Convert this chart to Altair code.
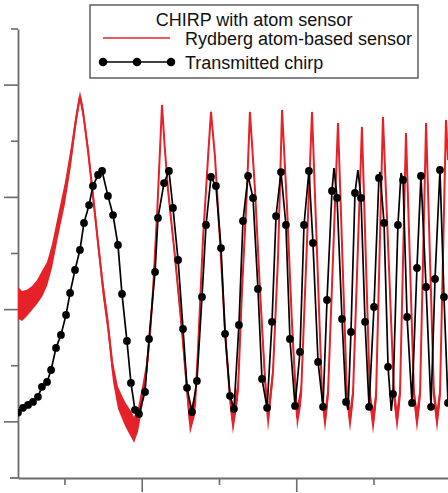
import altair as alt
import pandas as pd

RED = "#e62229"
AXIS_GREY = "#6b6b6b"
FONT = "Liberation Sans"

# Transmitted chirp: sampled points (time, normalized amplitude)
chirp_t = [1.96, 2.28, 2.61, 2.93, 3.25, 3.51, 3.84, 4.10, 4.42, 4.74,
           5.07, 5.33, 5.65, 5.97, 6.23, 6.56, 6.81, 7.14, 7.40, 7.78,
           8.11, 8.43, 8.69, 9.01, 9.27, 9.53, 9.79, 10.18, 10.44, 10.83,
           11.02, 11.41, 11.73, 11.99, 12.32, 12.64, 12.90, 13.22, 13.54, 13.87,
           14.13, 14.45, 14.77, 15.10, 15.36, 15.68, 15.94, 16.26, 16.52, 16.85,
           17.17, 17.49, 17.75, 18.08, 18.40, 18.66, 18.98, 19.30, 19.56, 19.89,
           20.21, 20.47, 20.79, 21.05, 21.38, 21.70, 21.96, 22.28, 22.61, 22.93,
           23.19, 23.51, 23.77, 24.16, 24.42, 24.68, 25.00, 25.32, 25.65, 25.91,
           26.23, 26.55, 26.88, 27.14, 27.46, 27.78, 28.04, 28.37, 28.69, 28.95,
           29.27, 29.53, 29.79]
chirp_v = [0.083, 0.125, 0.151, 0.178, 0.223, 0.312, 0.356, 0.463, 0.659, 0.775,
           0.953, 1.149, 1.354, 1.532, 1.772, 1.932, 2.102, 2.200, 2.235, 2.013,
           1.843, 1.576, 1.140, 0.721, 0.347, 0.107, 0.071, 0.267, 0.739, 1.336,
           1.817, 2.128, 2.235, 1.906, 1.443, 0.828, 0.303, 0.089, 0.365, 1.113,
           1.754, 2.182, 2.102, 1.549, 0.784, 0.232, 0.116, 0.864, 1.790, 2.191,
           1.995, 1.184, 0.383, 0.125, 0.891, 1.834, 2.226, 1.754, 0.739, 0.142,
           0.623, 1.754, 2.235, 1.594, 0.534, 0.134, 1.086, 2.057, 1.995, 0.917,
           0.178, 0.801, 2.039, 1.995, 0.891, 0.134, 1.024, 2.173, 1.772, 0.490,
           0.249, 1.754, 2.155, 0.935, 0.169, 1.371, 2.191, 1.202, 0.134, 1.273,
           2.244, 1.113, 0.169]

# Turning points of the transmitted waveform that fall between samples
chirp_turn_t = [22.41, 23.32, 23.96, 25.39, 26.12, 26.75]
chirp_turn_v = [2.262, 0.107, 2.244, 2.226, 0.098, 2.217]

# Rydberg atom-based sensor trace: mean level and noise half-width
rydberg_t = [1.96, 2.22, 2.54, 2.87, 3.19, 3.51, 3.84, 4.16, 4.55, 5.00,
             5.39, 5.71, 5.97, 6.17, 6.49, 6.81, 7.14, 7.46, 7.78, 8.11,
             8.43, 8.89, 9.27, 9.47, 9.73, 9.99, 10.24, 10.50, 10.70, 10.96,
             11.15, 11.28, 11.47, 11.67, 12.12, 12.57, 12.90, 13.09, 13.42, 13.61,
             13.93, 14.26, 14.45, 14.71, 15.03, 15.36, 15.68, 15.87, 16.20, 16.46,
             16.78, 16.97, 17.30, 17.62, 17.95, 18.14, 18.46, 18.79, 19.05, 19.37,
             19.69, 20.02, 20.28, 20.99, 21.64, 21.83, 22.02, 22.67, 23.25, 23.45,
             23.64, 24.22, 24.74, 24.94, 25.13, 25.58, 26.30, 26.49, 26.68, 27.07,
             27.59, 27.78, 27.98, 28.37, 28.88, 29.08, 29.27, 29.66, 29.79]
rydberg_v = [1.060, 1.033, 1.060, 1.104, 1.158, 1.229, 1.318, 1.478, 1.745, 2.039,
             2.369, 2.689, 2.903, 2.761, 2.422, 2.021, 1.594, 1.193, 0.864, 0.445,
             0.214, 0.071, -0.018, -0.071, 0.018, 0.214, 0.419, 0.775, 1.175, 1.843,
             2.422, 2.823, 2.422, 2.066, 1.469, 0.819, 0.285, 0.000, 0.151, 0.641,
             1.621, 2.360, 2.761, 2.360, 1.621, 0.819, 0.214, 0.000, 0.285, 1.175,
             2.066, 2.761, 2.066, 1.175, 0.374, 0.018, 0.436, 1.469, 2.778, 1.915,
             0.882, 0.036, 0.240, 2.761, 0.240, 0.018, 0.240, 2.663, 0.240, 0.018,
             0.240, 2.627, 0.214, 0.000, 0.214, 2.716, 0.240, 0.018, 0.240, 2.574,
             0.240, 0.018, 0.240, 2.663, 0.240, 0.018, 0.240, 2.689, 2.333]
rydberg_noise = [0.142, 0.134, 0.116, 0.107, 0.107, 0.116, 0.107, 0.107, 0.098, 0.098,
                 0.089, 0.062, 0.045, 0.053, 0.062, 0.071, 0.071, 0.080, 0.080, 0.089,
                 0.098, 0.107, 0.116, 0.116, 0.107, 0.098, 0.089, 0.080, 0.071, 0.062,
                 0.045, 0.027, 0.036, 0.045, 0.053, 0.071, 0.089, 0.107, 0.089, 0.071,
                 0.053, 0.036, 0.027, 0.036, 0.053, 0.071, 0.089, 0.107, 0.089, 0.071,
                 0.045, 0.027, 0.045, 0.062, 0.089, 0.107, 0.080, 0.053, 0.027, 0.045,
                 0.071, 0.107, 0.089, 0.027, 0.089, 0.107, 0.089, 0.027, 0.089, 0.107,
                 0.089, 0.027, 0.089, 0.107, 0.089, 0.027, 0.089, 0.107, 0.089, 0.027,
                 0.089, 0.107, 0.089, 0.027, 0.089, 0.107, 0.089, 0.027, 0.036]

# Axis tick positions
x_major_ticks = [10, 20]
x_minor_ticks = [5, 15, 25]
y_major_ticks = [0, 1, 2, 3]
y_minor_ticks = [0.5, 1.5, 2.5, 3.5]

legend_title = "CHIRP with atom sensor"
legend_labels = ["Rydberg atom-based sensor", "Transmitted chirp"]

W, H = 430, 449

chirp_line = pd.DataFrame({"t": chirp_t + chirp_turn_t,
                           "v": chirp_v + chirp_turn_v}).sort_values("t")
chirp_pts = pd.DataFrame({"t": chirp_t, "v": chirp_v})
rydberg = pd.DataFrame({
    "t": rydberg_t,
    "v": rydberg_v,
    "lo": [v - n for v, n in zip(rydberg_v, rydberg_noise)],
    "hi": [v + n for v, n in zip(rydberg_v, rydberg_noise)],
})

xs = alt.Scale(domain=[1.96, 29.79], nice=False, zero=False)
ys = alt.Scale(domain=[-0.5, 3.5], nice=False, zero=False)

X = alt.X("t:Q", scale=xs, title=None)

band = alt.Chart(rydberg).mark_area(color=RED, clip=True).encode(
    x=X, y=alt.Y("lo:Q", scale=ys, title=None), y2="hi:Q")
ryd_line = alt.Chart(rydberg).mark_line(color=RED, strokeWidth=2, clip=True).encode(
    x=X, y=alt.Y("v:Q", scale=ys, title=None))
tx_line = alt.Chart(chirp_line).mark_line(color="black", strokeWidth=1.7, clip=True).encode(
    x=X, y=alt.Y("v:Q", scale=ys, title=None))
tx_dots = alt.Chart(chirp_pts).mark_circle(color="black", size=60, opacity=1, clip=True).encode(
    x=X, y=alt.Y("v:Q", scale=ys, title=None))


def y_ticks(values, length):
    return alt.Chart(pd.DataFrame({"tick": values})).mark_rule(
        color=AXIS_GREY, strokeWidth=1.6).encode(
        y=alt.Y("tick:Q", scale=ys, title=None),
        x=alt.value(-length), x2=alt.value(0))


def x_ticks(values, length):
    return alt.Chart(pd.DataFrame({"tick": values})).mark_rule(
        color=AXIS_GREY, strokeWidth=1.6).encode(
        x=alt.X("tick:Q", scale=xs, title=None),
        y=alt.value(H), y2=alt.value(H + length))


one = alt.Data(values=[{"k": 0}])

# short stub of the time axis running past the amplitude axis
x_axis_stub = alt.Chart(one).mark_rule(color=AXIS_GREY, strokeWidth=1.8).encode(
    x=alt.value(-8), x2=alt.value(0), y=alt.value(H))

legend_box = alt.Chart(one).mark_rect(
    fill="white", stroke="#5e5e5e", strokeWidth=1.5).encode(
    x=alt.value(72), x2=alt.value(400), y=alt.value(-24), y2=alt.value(49))
legend_head = alt.Chart(one).mark_text(
    text=legend_title, font=FONT, fontSize=18, align="center",
    baseline="alphabetic", color="#111").encode(x=alt.value(236), y=alt.value(-3))
legend_red = alt.Chart(one).mark_rule(color=RED, strokeWidth=1.5).encode(
    x=alt.value(85), x2=alt.value(152), y=alt.value(9))
legend_red_txt = alt.Chart(one).mark_text(
    text=legend_labels[0], font=FONT, fontSize=18, align="left",
    baseline="alphabetic", color="#111").encode(x=alt.value(167), y=alt.value(15.5))
legend_blk = alt.Chart(one).mark_rule(color="black", strokeWidth=1.7).encode(
    x=alt.value(85), x2=alt.value(153), y=alt.value(33))
legend_dots = [
    alt.Chart(one).mark_circle(color="black", size=72, opacity=1).encode(
        x=alt.value(px), y=alt.value(33))
    for px in (85, 119, 153)
]
legend_blk_txt = alt.Chart(one).mark_text(
    text=legend_labels[1], font=FONT, fontSize=18, align="left",
    baseline="alphabetic", color="#111").encode(x=alt.value(167), y=alt.value(40))

chart = alt.layer(
    band, ryd_line, tx_line, tx_dots,
    y_ticks(y_major_ticks, 14), y_ticks(y_minor_ticks, 7),
    x_ticks(x_major_ticks, 14), x_ticks(x_minor_ticks, 7), x_axis_stub,
    legend_box, legend_head, legend_red, legend_red_txt,
    legend_blk, *legend_dots, legend_blk_txt,
).properties(
    width=W, height=H,
    padding={"left": 18, "top": 29, "right": 0, "bottom": 15},
    autosize=alt.AutoSizeParams(type="none"),
).configure_view(stroke=None).configure_axis(
    labels=False, ticks=False, grid=False, title=None,
    domainColor=AXIS_GREY, domainWidth=1.8,
)

chart.save("out.html", embed_options={"renderer": "svg", "actions": False})
